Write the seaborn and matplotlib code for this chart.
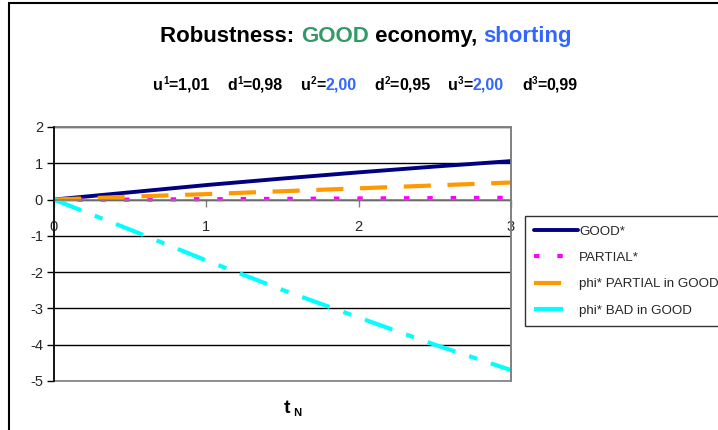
import numpy as np
import pandas as pd
import matplotlib
matplotlib.use("Agg")
import matplotlib.pyplot as plt
from matplotlib.patches import Rectangle
import seaborn as sns

# ------------------ Data ------------------
t_n = [0, 0.5, 1, 1.5, 2, 2.5, 3]
good = [0, 0.20, 0.40, 0.58, 0.75, 0.91, 1.06]
partial = [0, 0.0, 0.01, 0.02, 0.03, 0.04, 0.05]
phi_partial_in_good = [0, 0.08, 0.15, 0.23, 0.31, 0.39, 0.47]
phi_bad_in_good = [0, -0.83, -1.68, -2.49, -3.25, -4.00, -4.70]

series_names = ["GOOD*", "PARTIAL*", "phi* PARTIAL in GOOD", "phi* BAD in GOOD"]
x_ticks = [0, 1, 2, 3]
y_ticks = [-5, -4, -3, -2, -1, 0, 1, 2]

sns.set_style("white")
plt.rcParams['font.family'] = ['Liberation Sans', 'DejaVu Sans']

fig = plt.figure(figsize=(7.18, 4.30), dpi=100)
ax = fig.add_axes([54 / 718, 49 / 430, 457 / 718, 254 / 430])

# ------------------ Lines ------------------
styles = [
    dict(color='#000080', lw=2.8, linestyle='-'),
    dict(color='#FF00FF', lw=3.0, linestyle=(0, (1.3, 4.3))),
    dict(color='#FF9900', lw=3.0, linestyle=(0, (6.5, 4))),
    dict(color='#00FFFF', lw=3.0, linestyle=(0, (7, 3.5, 2, 3.5))),
]
for name, vals, st in zip(series_names, [good, partial, phi_partial_in_good, phi_bad_in_good], styles):
    sns.lineplot(x=t_n, y=vals, ax=ax, label=name, dash_capstyle='butt', **st)

ax.set_xlim(0, 3)
ax.set_ylim(-5, 2)
ax.set_xticks(x_ticks)
ax.set_yticks(y_ticks)
ax.set_xticklabels([str(v) for v in x_ticks])
ax.set_yticklabels([str(v) for v in y_ticks])
ax.set_xlabel('')
ax.set_ylabel('')
ax.yaxis.grid(True, color='black', lw=1)
ax.set_axisbelow(True)

ax.spines['bottom'].set_position(('data', 0))
ax.spines['bottom'].set_color('gray')
ax.spines['bottom'].set_linewidth(1.2)
ax.spines['left'].set_color('black')
ax.spines['left'].set_linewidth(1.2)
ax.spines['left'].set_zorder(5)
for s in ['top', 'right']:
    ax.spines[s].set_color('gray')
    ax.spines[s].set_linewidth(1.2)
ax.add_patch(Rectangle((0, 0), 1, 1, transform=ax.transAxes, fill=False,
                       ec='gray', lw=1.2, clip_on=False, zorder=1))

ax.tick_params(axis='y', direction='out', length=5, width=1, color='black',
               pad=3, labelsize=10.5, left=True)
ax.tick_params(axis='x', direction='out', length=5, width=1, color='gray',
               pad=10, labelsize=10.5, bottom=True)

# ------------------ Legend ------------------
leg = ax.legend(loc='upper left', bbox_to_anchor=(525 / 718, 1 - 216 / 430),
                bbox_transform=fig.transFigure, fontsize=9.6, frameon=True,
                fancybox=False, edgecolor='black', handlelength=3.3,
                handletextpad=0.05, labelspacing=1.05, borderpad=0.7,
                borderaxespad=0)
leg.get_frame().set_linewidth(1.0)


# ------------------ Texts ------------------
def seq_text(x_center, y, parts):
    fig.canvas.draw()
    r = fig.canvas.get_renderer()
    items = []
    total = 0
    for txt, color, size, dy in parts:
        tt = fig.text(0, 0, txt, color=color, fontsize=size, fontweight='bold',
                      va='baseline', ha='left')
        w = tt.get_window_extent(renderer=r).width
        items.append((tt, w, dy))
        total += w
    x = x_center * 718 - total / 2
    for tt, w, dy in items:
        tt.set_position((x / 718, (430 - y + dy) / 430))
        x += w


green = '#339966'
blue = '#3366FF'
seq_text(0.5 * (157 + 575) / 718, 42, [
    ("Robustness: ", 'black', 16, 0), ("GOOD", green, 16, 0),
    (" economy, ", 'black', 16, 0), ("shorting", blue, 16, 0)])

sub = []
for base, sup, val, col in [("u", "1", "1,01", 'black'), ("d", "1", "0,98", 'black'),
                            ("u", "2", "2,00", blue), ("d", "2", "0,95", 'black'),
                            ("u", "3", "2,00", blue), ("d", "3", "0,99", 'black')]:
    sub += [(base, 'black', 11.5, 0), (sup, 'black', 7, 6), ("=", 'black', 11.5, 0),
            (val, col, 11.5, 0), ("    ", 'black', 11.5, 0)]
sub = sub[:-1]
seq_text(0.5 * (148 + 583) / 718, 90, sub)

seq_text(293 / 718, 413, [("t", 'black', 14, 0), (" N", 'black', 8, -3)])

# figure border
fig.patches.append(Rectangle((9 / 718, -0.1), 1.2, (430 - 3) / 430 + 0.1,
                             transform=fig.transFigure, fill=False, ec='black',
                             lw=1.5, zorder=-1))

fig.savefig('out.png', dpi=100)
